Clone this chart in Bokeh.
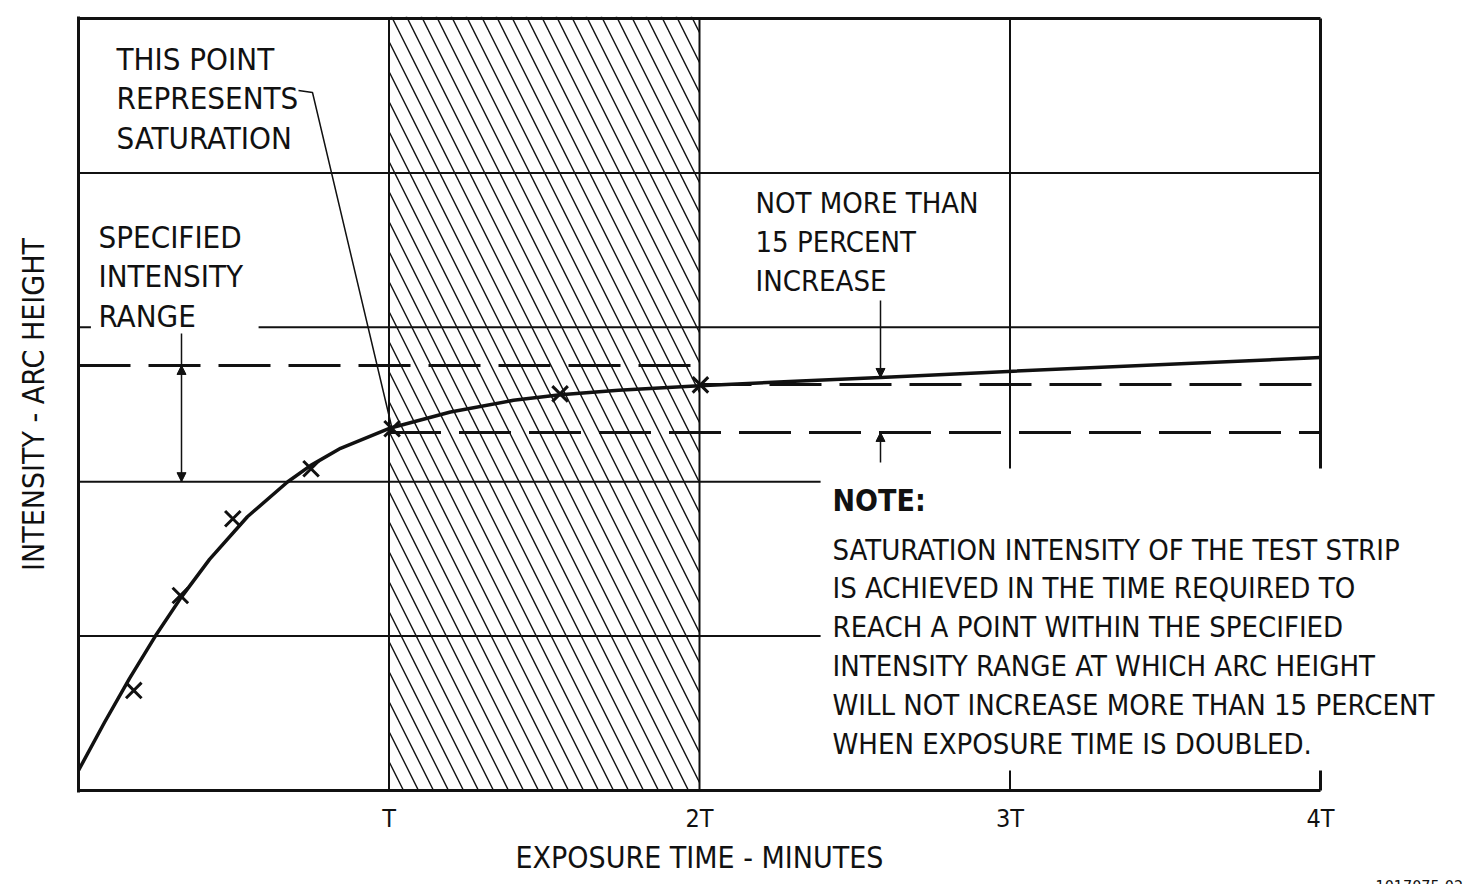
from bokeh.plotting import figure
from bokeh.models import FixedTicker, Label, Arrow, NormalHead, Range1d, Title
from bokeh.embed import file_html
from bokeh.resources import INLINE

# ---------------- data ----------------
curve_x = [0.0, 0.084, 0.164, 0.248, 0.329, 0.422, 0.544, 0.673, 0.747, 0.844,
           1.005, 1.198, 1.401, 1.552, 1.739, 2.0, 2.325, 2.583, 3.011, 4.0]
curve_y = [0.130, 0.442, 0.725, 1.002, 1.246, 1.497, 1.773, 1.998, 2.104, 2.216,
           2.348, 2.451, 2.527, 2.563, 2.593, 2.622, 2.652, 2.675, 2.716, 2.804]

marker_x = [0.178, 0.328, 0.497, 0.749, 1.01, 1.551, 2.003]
marker_y = [0.648, 1.263, 1.760, 2.084, 2.343, 2.569, 2.627]

upper_limit = 2.753     # top of specified intensity range (dashed)
lower_limit = 2.319     # saturation level (dashed)
doubled_level = 2.630   # intensity at 2T (dashed)

tick_vals = [1, 2, 3, 4]
tick_labels = ["T", "2T", "3T", "4T"]
grid_levels = [1, 2, 3, 4]

note_lines = [
    "SATURATION INTENSITY OF THE TEST STRIP",
    "IS ACHIEVED IN THE TIME REQUIRED TO",
    "REACH A POINT WITHIN THE SPECIFIED",
    "INTENSITY RANGE AT WHICH ARC HEIGHT",
    "WILL NOT INCREASE MORE THAN 15 PERCENT",
    "WHEN EXPOSURE TIME IS DOUBLED.",
]
sat_lines = ["THIS POINT", "REPRESENTS", "SATURATION"]
range_lines = ["SPECIFIED", "INTENSITY", "RANGE"]
incr_lines = ["NOT MORE THAN", "15 PERCENT", "INCREASE"]

FONT = "Liberation Sans Narrow, DejaVu Sans Condensed, Arial Narrow, sans-serif"
INK = "#111111"

# page-pixel -> data helpers (annotation placement only)
def X(px):
    return (px - 78) / 310.5

def Y(py):
    return (790 - py) / 154.4

p = figure(frame_width=1394, frame_height=776,
           x_range=Range1d(0, 1394 / 310.5), y_range=Range1d(Y(792), Y(16)),
           output_backend="svg", toolbar_location=None,
           min_border_left=78, min_border_right=3, min_border_top=16, min_border_bottom=0)
p.outline_line_color = None
p.xgrid.visible = False
p.ygrid.visible = False
p.background_fill_color = "white"
p.border_fill_color = "white"

# axes
p.xaxis.ticker = FixedTicker(ticks=tick_vals)
p.xaxis.major_label_overrides = {v: t for v, t in zip(tick_vals, tick_labels)}
p.xaxis.axis_line_color = None
p.xaxis.major_tick_in = 0
p.xaxis.major_tick_out = 0
p.xaxis.minor_tick_in = 0
p.xaxis.minor_tick_out = 0
p.xaxis.major_label_text_font = FONT
p.xaxis.major_label_text_font_size = "25px"
p.xaxis.major_label_text_color = INK
p.xaxis.major_label_standoff = 11

p.yaxis.ticker = FixedTicker(ticks=[])
p.yaxis.axis_line_width = 3
p.yaxis.axis_line_color = INK
p.yaxis.major_tick_in = 0
p.yaxis.major_tick_out = 0
p.yaxis.minor_tick_in = 0
p.yaxis.minor_tick_out = 0
p.yaxis.major_label_text_font_size = "0px"
p.yaxis.axis_label = "INTENSITY - ARC HEIGHT"
p.yaxis.axis_label_text_font = FONT
p.yaxis.axis_label_text_font_size = "30px"
p.yaxis.axis_label_text_font_style = "normal"
p.yaxis.axis_label_text_color = INK
p.yaxis.axis_label_standoff = 28

# x-axis title and drawing number below the axis
p.add_layout(Title(text="EXPOSURE TIME - MINUTES", align="left", offset=437, standoff=5,
                   text_font=FONT, text_font_size="30px", text_font_style="normal",
                   text_color=INK), "below")
p.add_layout(Title(text="1017075-02", align="left", offset=1297, standoff=0,
                   text_font=FONT, text_font_size="16px", text_font_style="normal",
                   text_color=INK), "below")

# hatched band between T and 2T
p.quad(left=[tick_vals[0]], right=[tick_vals[1]], bottom=[0], top=[Y(16)], fill_color=None, line_color=None,
       hatch_pattern="\\", hatch_scale=30, hatch_weight=1.4, hatch_color=INK)

# frame: top, bottom and partial right edge
p.segment(x0=[0, 0, 4, 4], y0=[5, 0, 5, 0.13], x1=[4, 4, 4, 4], y1=[5, 0, 2.085, 0],
          line_width=3, line_color=INK)

# horizontal grid lines (partial)
p.segment(x0=[0, 0, 0.58, 0, 0],
          y0=[grid_levels[0], grid_levels[1], grid_levels[2], grid_levels[2], grid_levels[3]],
          x1=[2.39, 2.39, 4, 0.04, 4],
          y1=[grid_levels[0], grid_levels[1], grid_levels[2], grid_levels[2], grid_levels[3]],
          line_width=2, line_color=INK)
# vertical grid lines
p.segment(x0=[1, 2, 3, 3], y0=[0, 0, 2.085, 0], x1=[1, 2, 3, 3], y1=[5, 5, 5, 0.13],
          line_width=2, line_color=INK)

# dashed reference levels
p.segment(x0=[0, 1, 2], y0=[upper_limit, lower_limit, doubled_level],
          x1=[2, 4, 4], y1=[upper_limit, lower_limit, doubled_level],
          line_width=3, line_color=INK, line_dash="52 18")

# curve and measured points
p.line(curve_x, curve_y, line_width=3.5, line_color=INK, line_join="round")
p.scatter(marker_x, marker_y, marker="x", size=22, line_width=3, line_color=INK)

# leader from "REPRESENTS" to the saturation point
p.line([X(298), X(312), marker_x[4]], [Y(90), Y(92), marker_y[4]], line_width=1.5, line_color=INK)

# specified intensity range dimension
xa = X(181)
p.segment(x0=[xa], y0=[Y(333)], x1=[xa], y1=[grid_levels[1]], line_width=1.5, line_color=INK)
for ye in (upper_limit, grid_levels[1]):
    p.add_layout(Arrow(end=NormalHead(size=9, fill_color=INK, line_color=INK), line_alpha=0,
                       x_start=xa, y_start=(upper_limit + grid_levels[1]) / 2, x_end=xa, y_end=ye))

# "not more than 15 percent" dimension
xb = X(880)
p.add_layout(Arrow(end=NormalHead(size=9, fill_color=INK, line_color=INK), line_width=1.5, line_color=INK,
                   x_start=xb, y_start=Y(300), x_end=xb, y_end=2.675))
p.add_layout(Arrow(end=NormalHead(size=9, fill_color=INK, line_color=INK), line_width=1.5, line_color=INK,
                   x_start=xb, y_start=Y(462), x_end=xb, y_end=lower_limit))

def lab(txt, px, py, size=30, bold=False):
    p.add_layout(Label(x=X(px), y=Y(py), text=txt, text_font=FONT, text_font_size=f"{size}px",
                       text_font_style="bold" if bold else "normal", text_color=INK,
                       text_baseline="middle", text_align="left"))

for i, t in enumerate(sat_lines):
    lab(t, 116, 58 + 39.5 * i, size=31)
for i, t in enumerate(range_lines):
    lab(t, 98, 236 + 39.5 * i, size=31)
for i, t in enumerate(incr_lines):
    lab(t, 755, 202 + 39 * i, size=29)
lab("NOTE:", 832, 500, bold=True)
for i, t in enumerate(note_lines):
    lab(t, 832, 549 + 38.8 * i, size=29)

open("out.html", "w").write(file_html(p, INLINE))
